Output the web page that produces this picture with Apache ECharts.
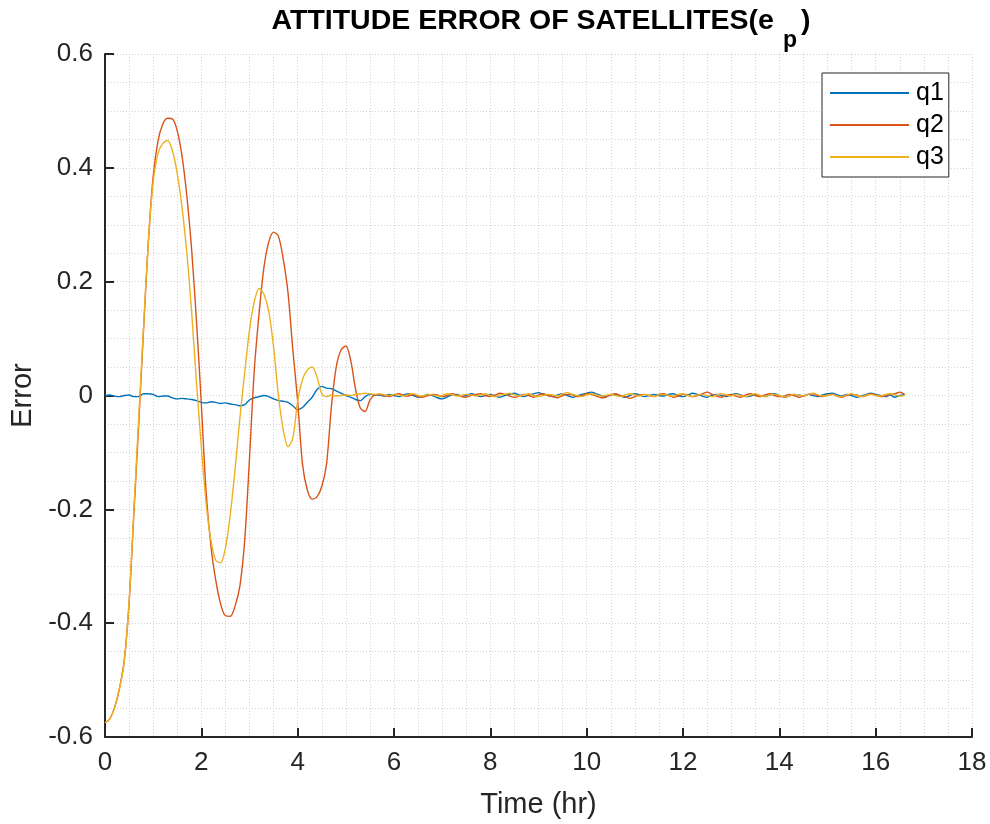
<!DOCTYPE html>
<html>
<head>
<meta charset="utf-8">
<script src="https://cdn.jsdelivr.net/npm/echarts@6/dist/echarts.min.js"></script>
<style>html,body{margin:0;padding:0;background:#fff;}#c{width:990px;height:824px;}</style>
</head>
<body>
<div id="c"></div>
<script>
// sampling grid (hours)
const tStart = 0, tStep = 0.1;
const seriesNames = ['q1', 'q2', 'q3'];
const xTickLabels = ['0','2','4','6','8','10','12','14','16','18'];
const yTickLabels = ['-0.6','-0.4','-0.2','0','0.2','0.4','0.6'];

const q1 = [
 0.000, 0.001,-0.001,-0.002, 0.000, 0.001,-0.002,-0.002, 0.003, 0.003,
 0.002,-0.002,-0.001,-0.001,-0.004,-0.006,-0.005,-0.006,-0.007,-0.009,
-0.012,-0.013,-0.011,-0.012,-0.014,-0.013,-0.015,-0.016,-0.018,-0.016,
-0.008,-0.004,-0.002, 0.000,-0.002,-0.006,-0.009,-0.010,-0.012,-0.018,
-0.025,-0.021,-0.012,-0.003, 0.010, 0.016, 0.013, 0.012, 0.008, 0.004,
 0.000,-0.003,-0.007,-0.009,-0.002, 0.002, 0.001,
 0.001,-0.001, 0.002, 0.000,-0.002, 0.001, 0.003, 0.000,-0.003,-0.001,
 0.002, 0.000,-0.004,-0.006,-0.003, 0.001, 0.002,-0.001, 0.000, 0.003,
 0.001,-0.002, 0.000, 0.002,-0.001,-0.003, 0.000, 0.002, 0.004, 0.001,
-0.002, 0.001, 0.003, 0.005, 0.002, 0.000,-0.002, 0.001, 0.003, 0.000,
-0.003,-0.001, 0.002, 0.004, 0.006, 0.003, 0.000,-0.002, 0.001, 0.002,
-0.001,-0.003, 0.000, 0.003, 0.001,-0.002, 0.000, 0.002, 0.000,-0.001,
 0.002, 0.003, 0.000,-0.002, 0.001, 0.004, 0.002,-0.001,-0.003, 0.000,
 0.002, 0.000,-0.002, 0.001, 0.003, 0.001,-0.002,-0.001, 0.002, 0.000,
-0.002, 0.001, 0.003, 0.000,-0.003,-0.001, 0.002, 0.001,-0.001, 0.002,
 0.000,-0.002, 0.001, 0.003, 0.004, 0.001,-0.001, 0.002, 0.000,-0.003,
-0.001, 0.002, 0.004, 0.002, 0.000,-0.002, 0.001,-0.003, 0.000, 0.002
];

const q2 = [
-0.575,-0.568,-0.548,-0.515,-0.465,-0.365,-0.207,-0.050, 0.115, 0.270,
 0.385, 0.447, 0.477, 0.487, 0.486, 0.465, 0.420, 0.350, 0.255, 0.130,
-0.015,-0.170,-0.265,-0.325,-0.366,-0.387,-0.388,-0.370,-0.335,-0.255,
-0.110, 0.045, 0.145, 0.225, 0.270, 0.287, 0.280, 0.240, 0.180, 0.080,
-0.010,-0.120,-0.166,-0.182,-0.178,-0.160,-0.120,-0.020, 0.050, 0.080,
 0.087, 0.062, 0.012,-0.022,-0.028,-0.008, 0.001,
 0.002, 0.000,-0.002, 0.001, 0.003, 0.000,-0.001, 0.002,-0.002,-0.003,
 0.000, 0.002, 0.001,-0.002, 0.000, 0.003, 0.001,-0.002,-0.003, 0.000,
 0.002, 0.003, 0.000,-0.002, 0.001, 0.004, 0.002,-0.001,-0.003,-0.001,
 0.002, 0.000,-0.003, 0.001, 0.003, 0.000,-0.002,-0.004, 0.000, 0.002,
 0.001,-0.002, 0.000, 0.003, 0.002,-0.001,-0.004,-0.003, 0.001, 0.003,
 0.000,-0.002,-0.005,-0.002, 0.001, 0.002, 0.000,-0.002, 0.002, 0.003,
 0.000,-0.003,-0.001, 0.002, 0.001,-0.002, 0.000, 0.003, 0.006, 0.002,
-0.001,-0.003, 0.000, 0.002,-0.001,-0.003, 0.001, 0.003, 0.000,-0.002,
 0.001, 0.003, 0.000,-0.002,-0.001, 0.002, 0.000,-0.003,-0.001, 0.002,
 0.003, 0.000,-0.002, 0.001, 0.002,-0.001,-0.003, 0.000, 0.002, 0.001,
-0.002, 0.000, 0.003, 0.001,-0.002,-0.001, 0.002, 0.003, 0.006, 0.002
];

const q3 = [
-0.575,-0.568,-0.548,-0.515,-0.468,-0.362,-0.200,-0.040, 0.120, 0.270,
 0.375, 0.425, 0.443, 0.448, 0.430, 0.390, 0.330, 0.250, 0.145, 0.022,
-0.090,-0.190,-0.255,-0.290,-0.294,-0.268,-0.210,-0.130,-0.040, 0.040,
 0.115, 0.165, 0.188, 0.178, 0.148, 0.085, 0.000,-0.060,-0.090,-0.075,
-0.010, 0.028, 0.045, 0.050, 0.033, 0.003,-0.002, 0.001,-0.001, 0.000,
 0.001, 0.000, 0.002, 0.003, 0.004, 0.003, 0.002,
 0.003, 0.001, 0.000, 0.002, 0.001,-0.001, 0.002, 0.003, 0.000,-0.001,
 0.002, 0.001,-0.001, 0.000, 0.003, 0.002,-0.001, 0.000, 0.002, 0.001,
-0.001, 0.001, 0.003, 0.000,-0.002, 0.001, 0.002, 0.004, 0.001,-0.001,
 0.001, 0.003, 0.000,-0.002, 0.000, 0.002, 0.001,-0.001, 0.003, 0.005,
 0.002, 0.000,-0.002, 0.001, 0.003, 0.001,-0.001, 0.000, 0.002, 0.000,
-0.002, 0.001, 0.003, 0.001,-0.001, 0.002, 0.000,-0.002, 0.001, 0.002,
 0.000,-0.001, 0.002, 0.003, 0.000,-0.002, 0.001, 0.002, 0.000,-0.002,
 0.001, 0.003, 0.001,-0.001, 0.002, 0.000,-0.002, 0.001, 0.003, 0.000,
-0.002, 0.001, 0.002, 0.000,-0.003,-0.001, 0.002, 0.001,-0.001, 0.002,
 0.004, 0.001,-0.001, 0.000, 0.002,-0.001,-0.002, 0.001, 0.003, 0.000,
-0.002, 0.001, 0.002, 0.000,-0.001, 0.002, 0.003, 0.001,-0.001, 0.000
];

const colors = ['#0072BD', '#D95319', '#EDB120'];
const seriesValues = [q1, q2, q3];

function pairs(vals) {
  return vals.map((v, i) => [+(tStart + i * tStep).toFixed(2), v]);
}

const FONT = '"Liberation Sans", Arial, Helvetica, sans-serif';
const DARK = '#262626';
const gridLine = { show: true, lineStyle: { color: '#d4d4d4', width: 1, type: [1, 2] } };

const chart = echarts.init(document.getElementById('c'), null, { renderer: 'canvas' });
chart.setOption({
  backgroundColor: '#fff',
  animation: false,
  color: colors,
  title: {
    text: '{a|ATTITUDE ERROR OF SATELLITES(e}{s|p}{a|)}',
    left: 536,
    top: 2,
    textAlign: 'center',
    padding: 5,
    textStyle: {
      rich: {
        a: { fontFamily: FONT, fontSize: 28.5, fontWeight: 'bold', color: '#000', verticalAlign: 'top' },
        s: { fontFamily: FONT, fontSize: 23, fontWeight: 'bold', color: '#000', verticalAlign: 'top', padding: [22, 4, 0, 9] }
      }
    }
  },
  legend: {
    data: seriesNames,
    orient: 'vertical',
    left: 822,
    top: 73,
    backgroundColor: '#fff',
    borderColor: DARK,
    borderWidth: 1,
    borderRadius: 0,
    padding: [7, 5, 7, 8],
    itemGap: 6,
    itemWidth: 79,
    itemHeight: 2,
    icon: 'rect',
    textStyle: { fontFamily: FONT, fontSize: 25, color: '#000', lineHeight: 26, padding: [0, 0, 0, 2] }
  },
  grid: { left: 105, right: 18, top: 54, bottom: 87, containLabel: false },
  xAxis: {
    type: 'value',
    min: 0, max: 18, interval: 2,
    name: 'Time (hr)',
    nameLocation: 'middle',
    nameGap: 53,
    nameTextStyle: { fontFamily: FONT, fontSize: 29, color: DARK },
    axisLine: { show: true, onZero: false, lineStyle: { color: DARK, width: 2 } },
    axisTick: { show: true, inside: true, length: 9, lineStyle: { color: DARK, width: 2 } },
    axisLabel: {
      fontFamily: FONT, fontSize: 26, color: DARK, margin: 13,
      formatter: v => xTickLabels[Math.round(v / 2)]
    },
    splitLine: gridLine,
    minorTick: { show: false, splitNumber: 4 },
    minorSplitLine: gridLine
  },
  yAxis: {
    type: 'value',
    min: -0.6, max: 0.6, interval: 0.2,
    name: 'Error',
    nameLocation: 'middle',
    nameGap: 68,
    nameTextStyle: { fontFamily: FONT, fontSize: 29, color: DARK },
    axisLine: { show: true, onZero: false, lineStyle: { color: DARK, width: 2 } },
    axisTick: { show: true, inside: true, length: 9, lineStyle: { color: DARK, width: 2 } },
    axisLabel: {
      fontFamily: FONT, fontSize: 26, color: DARK, margin: 12,
      formatter: v => yTickLabels[Math.round((v + 0.6) / 0.2)]
    },
    splitLine: gridLine,
    minorTick: { show: false, splitNumber: 4 },
    minorSplitLine: gridLine
  },
  series: seriesNames.map((n, k) => ({
    name: n,
    type: 'line',
    data: pairs(seriesValues[k]),
    showSymbol: false,
    smooth: 0.3,
    lineStyle: { width: 1.4, color: colors[k] },
    itemStyle: { color: colors[k] },
    z: 2 + k
  }))
});
</script>
</body>
</html>
